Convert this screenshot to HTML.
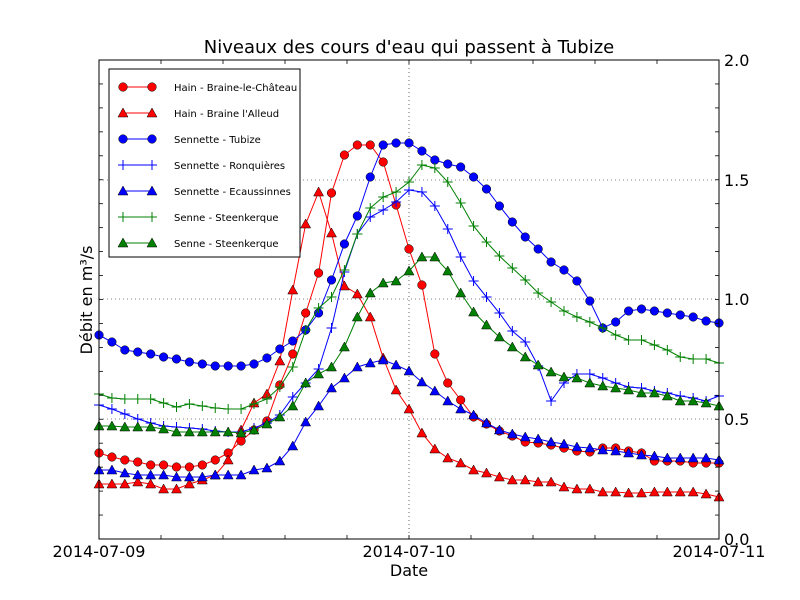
<!DOCTYPE html>
<html><head><meta charset="utf-8"><style>
html,body{margin:0;padding:0;background:#fff;}
svg{display:block;font-family:"DejaVu Sans","Liberation Sans",sans-serif;}
</style></head><body>
<svg id="s" width="800" height="600" xmlns="http://www.w3.org/2000/svg">
<rect width="800" height="600" fill="#fff"/>
<g id="grid" stroke="#000" stroke-width="0.6" stroke-dasharray="1,3">
<line x1="99" y1="419" x2="719" y2="419"/>
<line x1="99" y1="299" x2="719" y2="299"/>
<line x1="99" y1="180" x2="719" y2="180"/>
<line x1="409" y1="60" x2="409" y2="539"/>
</g>
<g id="plot"></g>
<rect x="99" y="60" width="620" height="479" fill="none" stroke="#000" stroke-width="1"/>
<g id="ticks" stroke="#000" stroke-width="0.8"></g>
<g font-size="16" fill="#000">
<text x="409" y="53" text-anchor="middle" font-size="18">Niveaux des cours d'eau qui passent à Tubize</text>
<text x="724" y="66">2.0</text>
<text x="724" y="186">1.5</text>
<text x="724" y="305">1.0</text>
<text x="724" y="425">0.5</text>
<text x="724" y="545">0.0</text>
<text x="99" y="557" text-anchor="middle">2014-07-09</text>
<text x="409" y="557" text-anchor="middle">2014-07-10</text>
<text x="719" y="557" text-anchor="middle">2014-07-11</text>
<text x="409" y="576" text-anchor="middle">Date</text>
<text transform="translate(92,300) rotate(-90)" text-anchor="middle">Débit en m³/s</text>
</g>
<rect x="109" y="69" width="191" height="188" fill="#fff" stroke="#000" stroke-width="1"/>
<g id="legend" font-size="10"></g>
</svg>
<script>
var S={
 rc:[453,457,460,462,465,465,467,467,465,460,453,441,430,421,385,354,313,273,193,155,145,145,162,205,249,285,354,383,400,417,424,431,436,442,443,445,448,451,452,448,448,451,453,461,461,461,463,463,463],
 rt:[484,484,484,482,484,489,489,484,480,475,460,430,403,394,361,290,224,192,233,286,294,317,358,390,409,433,449,458,463,470,473,477,480,480,482,482,487,489,489,492,492,493,493,492,492,492,492,494,497],
 bc:[335,342,350,352,354,357,359,362,364,366,366,366,364,358,349,341,330,313,280,244,216,177,145,143,143,151,160,164,167,177,189,206,222,237,249,262,270,281,301,328,322,311,309,311,313,315,317,321,323],
 bp:[405,409,414,419,423,426,427,428,429,431,432,432,428,423,415,397,383,369,328,272,234,217,210,202,190,192,206,229,257,281,297,313,331,342,366,401,383,374,374,378,383,387,388,391,393,396,398,401,396],
 bt:[470,470,473,475,475,475,477,477,477,475,475,475,470,468,461,446,422,406,388,378,367,363,360,365,371,382,391,401,409,415,423,430,434,437,439,442,444,447,448,450,451,453,455,456,458,458,458,458,460],
 gp:[394,398,399,399,399,403,407,404,406,408,409,409,404,399,387,367,330,308,297,270,234,208,197,192,182,165,168,182,203,226,242,256,268,280,293,302,311,317,322,328,335,340,340,345,350,357,359,359,363],
 gt:[426,426,427,427,427,429,432,432,432,432,432,433,430,424,417,406,383,374,367,347,317,293,283,281,271,257,257,271,293,312,325,337,347,357,365,372,377,378,383,386,388,390,393,393,396,401,401,403,406]
};
var ser=[
 ['rc','red','o','Hain - Braine-le-Château'],
 ['rt','red','^','Hain - Braine l\'Alleud'],
 ['bc','blue','o','Sennette - Tubize'],
 ['bp','blue','+','Sennette - Ronquières'],
 ['bt','blue','^','Sennette - Ecaussinnes'],
 ['gp','green','+','Senne - Steenkerque'],
 ['gt','green','^','Senne - Steenkerque']
];
var NS='http://www.w3.org/2000/svg';
function el(p,t,a){var e=document.createElementNS(NS,t);for(var k in a)e.setAttribute(k,a[k]);p.appendChild(e);return e;}
function mk(g,m,c,x,y){
 if(m=='o')el(g,'circle',{cx:x,cy:y,r:4.3,fill:c,stroke:'#000','stroke-width':0.5});
 else if(m=='^')el(g,'polygon',{points:(x)+','+(y-5)+' '+(x-5)+','+(y+4)+' '+(x+5)+','+(y+4),fill:c,stroke:'#000','stroke-width':0.5});
 else el(g,'path',{d:'M'+(x-5)+' '+y+'h10M'+x+' '+(y-5)+'v10',stroke:c,'stroke-width':1});
}
var P=document.getElementById('plot');
ser.forEach(function(s){
 var d=S[s[0]],pts=[];
 for(var i=0;i<d.length;i++)pts.push((99+i*620/48).toFixed(1)+','+d[i]);
 el(P,'polyline',{points:pts.join(' '),fill:'none',stroke:s[1],'stroke-width':1});
 for(var i=0;i<d.length;i++)mk(P,s[2],s[1],99+i*620/48,d[i]);
});
var L=document.getElementById('legend');
ser.forEach(function(s,i){
 var y=87+i*26;
 el(L,'line',{x1:123,y1:y,x2:152,y2:y,stroke:s[1],'stroke-width':1});
 mk(L,s[2],s[1],123,y);mk(L,s[2],s[1],152,y);
 var t=el(L,'text',{x:174,y:y+4});t.textContent=s[3];
});
var T=document.getElementById('ticks');
for(var k=0;k<=20;k++){var y=539-k*23.95;
 el(T,'line',{x1:715,y1:y,x2:719,y2:y});el(T,'line',{x1:99,y1:y,x2:103,y2:y});}
for(var x=99;x<=720;x+=62){
 el(T,'line',{x1:x,y1:60,x2:x,y2:64});el(T,'line',{x1:x,y1:535,x2:x,y2:539});}
</script>
</body></html>
